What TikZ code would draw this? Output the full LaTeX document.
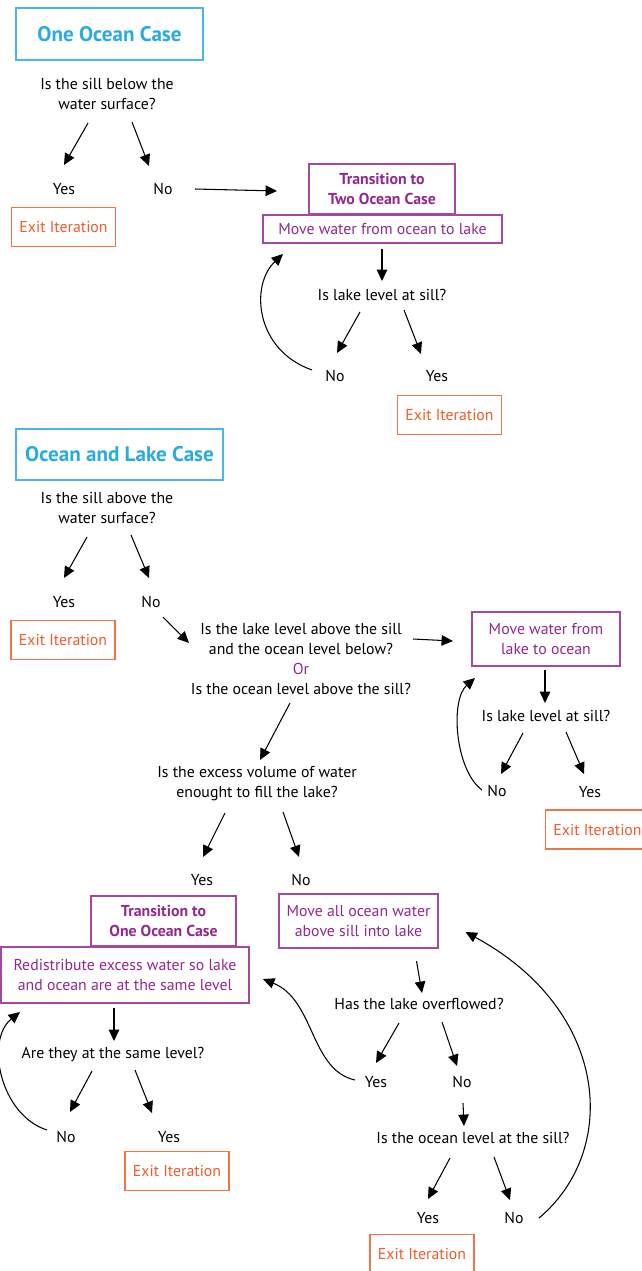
\documentclass[tikz,border=0pt]{standalone}
\usepackage{fontspec}
\setmainfont{PT Sans}
\usetikzlibrary{arrows.meta}
\definecolor{caseblue}{HTML}{29ABE2}
\definecolor{steppurple}{HTML}{93278F}
\definecolor{exitorange}{HTML}{F15A29}
\tikzset{
  qtext/.style={inner sep=0pt,align=center},
  casebox/.style={draw=caseblue!85,line width=.8pt,text=caseblue,font=\fontsize{12}{14}\selectfont\bfseries},
  pbox/.style={draw=steppurple!85,line width=.8pt,text=steppurple,align=center,inner sep=0pt},
  ptitle/.style={pbox,font=\fontsize{9}{11.3}\selectfont\bfseries},
  exitbox/.style={draw=exitorange!85,line width=.8pt,text=exitorange,minimum width=2.08cm,minimum height=.78cm,inner sep=0pt},
  arr/.style={-{Triangle[length=6.5pt,width=6pt]},line width=.6pt}
}
\begin{document}
\begin{tikzpicture}[x=.02cm,y=-.02cm,font=\fontsize{9}{11.3}\selectfont]
\useasboundingbox (0,0) rectangle (642,1271);
\clip (0,0) rectangle (642,1271);
% one ocean case
\node[casebox,minimum width=3.74cm,minimum height=1.04cm] (oc) at (109.5,34) {One Ocean Case};
\node[qtext] (q1) at (107,94) {Is the sill below the\\water surface?};
\node[qtext] (yes1) at (64,189) {Yes};
\node[qtext] (no1) at (163,189) {No};
\node[exitbox] (ex1) at (63.5,227) {Exit Iteration};
\node[ptitle,minimum width=2.92cm,minimum height=1cm] (tr1) at (382,189) {Transition to\\Two Ocean Case};
\node[pbox,minimum width=4.78cm,minimum height=.56cm] (mv1) at (382.5,229) {Move water from ocean to lake};
\node[qtext] (q2) at (382,295) {Is lake level at sill?};
\node[qtext] (no2) at (335,376) {No};
\node[qtext] (yes2) at (437,376) {Yes};
\node[exitbox] (ex2) at (449.5,415) {Exit Iteration};
\draw[arr] ([shift={(-19,29)}]q1.center) -- ([shift={(0,-24)}]yes1.center);
\draw[arr] ([shift={(25,28)}]q1.center) -- ([shift={(-14,-23)}]no1.center);
\draw[arr] ([shift={(32,0)}]no1.center) -- ([shift={(-105,2)}]tr1.center);
\draw[arr] ([shift={(-.5,20)}]mv1.center) -- ([shift={(0,-14)}]q2.center);
\draw[arr] ([shift={(-22,17)}]q2.center) -- ([shift={(2,-23)}]no2.center);
\draw[arr] ([shift={(22,15)}]q2.center) -- ([shift={(-16,-22)}]yes2.center);
\draw[arr] ([shift={(-23,-6)}]no2.center) .. controls +(-57,-20) and +(-33,31) .. ([shift={(-99.5,25)}]mv1.center);
% ocean and lake case
\node[casebox,minimum width=4.14cm,minimum height=1.02cm] (olc) at (119.5,454.5) {Ocean and Lake Case};
\node[qtext] (q3) at (107,508) {Is the sill above the\\water surface?};
\node[qtext] (yes3) at (64,602) {Yes};
\node[qtext] (no3) at (151,602) {No};
\node[exitbox] (ex3) at (63,640) {Exit Iteration};
\node[qtext] (q4) at (301,659) {Is the lake level above the sill\\and the ocean level below?\\\textcolor{steppurple}{Or}\\Is the ocean level above the sill?};
\node[pbox,minimum width=2.96cm,minimum height=1.08cm] (mv2) at (546,639) {Move water from\\lake to ocean};
\node[qtext] (q5) at (546,716) {Is lake level at sill?};
\node[qtext] (no5) at (497,791) {No};
\node[qtext] (yes5) at (590,792) {Yes};
\node[exitbox] (ex5) at (597.5,829.5) {Exit Iteration};
\node[qtext] (q6) at (257,784) {Is the excess volume of water\\enought to fill the lake?};
\node[qtext] (yes6) at (202,880) {Yes};
\node[qtext] (no6) at (301,880) {No};
\draw[arr] ([shift={(-20,29)}]q3.center) -- ([shift={(0,-24)}]yes3.center);
\draw[arr] ([shift={(24,27)}]q3.center) -- ([shift={(-2,-24)}]no3.center);
\draw[arr] ([shift={(12,15)}]no3.center) -- ([shift={(-112,-16)}]q4.center);
\draw[arr] ([shift={(112,-20)}]q4.center) -- ([shift={(-93,2)}]mv2.center);
\draw[arr] ([shift={(-1,31)}]mv2.center) -- ([shift={(-1,-13)}]q5.center);
\draw[arr] ([shift={(-23,17)}]q5.center) -- ([shift={(4,-17)}]no5.center);
\draw[arr] ([shift={(20,16)}]q5.center) -- ([shift={(-6,-18)}]yes5.center);
\draw[arr] ([shift={(-15,-1)}]no5.center) .. controls +(-27,-20) and +(-25,22) .. ([shift={(-71,39)}]mv2.center);
\draw[arr] ([shift={(-11,44)}]q4.center) -- ([shift={(3,-24)}]q6.center);
\draw[arr] ([shift={(-32,29)}]q6.center) -- ([shift={(1,-23)}]yes6.center);
\draw[arr] ([shift={(26,28)}]q6.center) -- ([shift={(-2,-23)}]no6.center);
% transition to one ocean case
\node[ptitle,minimum width=2.9cm,minimum height=1cm] (tr2) at (163.5,921) {Transition to\\One Ocean Case};
\node[pbox,minimum width=4.96cm,minimum height=1.12cm] (rd) at (125,975) {Redistribute excess water so lake\\and ocean are at the same level};
\node[qtext] (q7) at (113,1054) {Are they at the same level?};
\node[qtext] (no7) at (66,1137) {No};
\node[qtext] (yes7) at (169,1137) {Yes};
\node[exitbox] (ex7) at (177,1171) {Exit Iteration};
\draw[arr] ([shift={(-11,33)}]rd.center) -- ([shift={(1,-13)}]q7.center);
\draw[arr] ([shift={(-21,17)}]q7.center) -- ([shift={(4,-25)}]no7.center);
\draw[arr] ([shift={(22,16)}]q7.center) -- ([shift={(-17,-24)}]yes7.center);
\draw[arr] ([shift={(-19,-7)}]no7.center) .. controls +(-47,-15) and +(-35,28) .. ([shift={(-105,37)}]rd.center);
% move all ocean water
\node[pbox,minimum width=3.18cm,minimum height=1.08cm] (mv3) at (358.5,921) {Move all ocean water\\above sill into lake};
\node[qtext] (q8) at (419,1004) {Has the lake overflowed?};
\node[qtext] (yes8) at (376,1082) {Yes};
\node[qtext] (no8) at (462,1082) {No};
\node[qtext] (q9) at (473,1138) {Is the ocean level at the sill?};
\node[qtext] (yes9) at (428,1218) {Yes};
\node[qtext] (no9) at (514,1218) {No};
\node[exitbox] (ex9) at (422,1254) {Exit Iteration};
\draw[arr] ([shift={(58,40)}]mv3.center) -- ([shift={(3,-11)}]q8.center);
\draw[arr] ([shift={(-20,19)}]q8.center) -- ([shift={(0,-19)}]yes8.center);
\draw[arr] ([shift={(23,18)}]q8.center) -- ([shift={(-5,-16)}]no8.center);
\draw[arr] ([shift={(1,21)}]no8.center) -- ([shift={(-9,-12)}]q9.center);
\draw[arr] ([shift={(-23,20)}]q9.center) -- ([shift={(0,-19)}]yes9.center);
\draw[arr] ([shift={(21,19)}]q9.center) -- ([shift={(-4,-18)}]no9.center);
\draw[arr] ([shift={(-21,-2)}]yes8.center) .. controls +(-45,-10) and +(52,21) .. ([shift={(138,4)}]rd.center);
\draw[arr] ([shift={(25,0)}]no9.center) .. controls +(81,-68) and +(144,78) .. ([shift={(107,11)}]mv3.center);
\end{tikzpicture}
\end{document}
